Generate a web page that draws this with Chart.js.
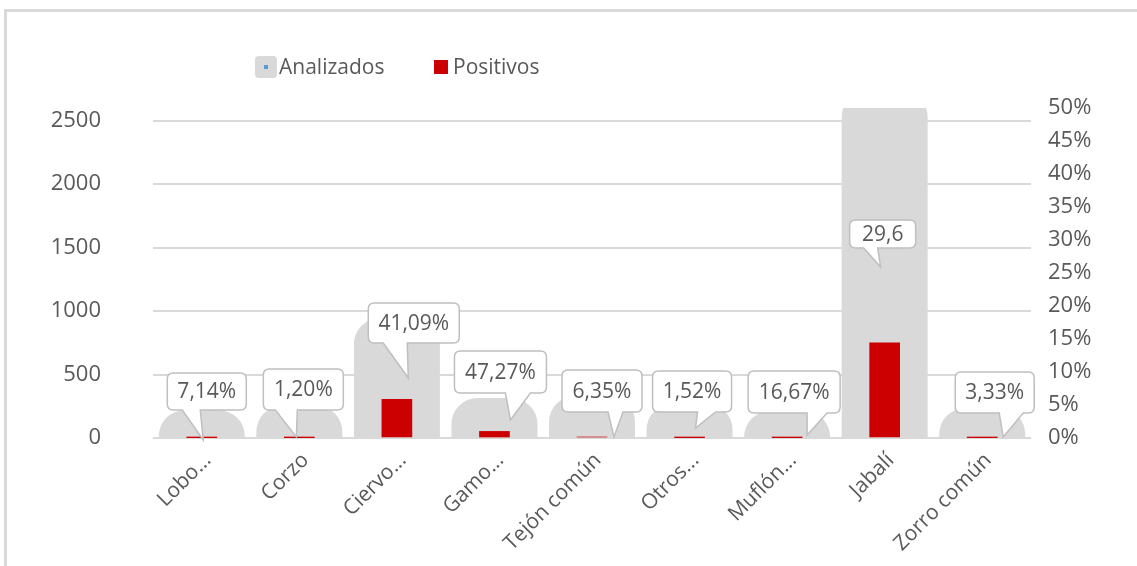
<!DOCTYPE html>
<html lang="es">
<head>
    <meta charset="UTF-8">
    <title>Analizados y positivos por especie</title>
    <style>
        body {
            margin: 0;
            background-color: white;
        }
        .marco {
            position: absolute;
            left: 4px;
            top: 9px;
            width: 1200px;
            height: 600px;
            border-top: 3px solid #d9d9d9;
            border-left: 3px solid #d9d9d9;
        }
        .grafica-container {
            position: absolute;
            left: 0;
            top: 0;
            width: 1137px;
            height: 566px;
        }
    </style>
</head>
<body>
    <div class="marco"></div>
    <div class="grafica-container">
        <canvas id="graficaEspecies"></canvas>
    </div>

    <script src="https://cdn.jsdelivr.net/npm/chart.js"></script>
    <script>
        // Datos
        const especies = ['Lobo...', 'Corzo', 'Ciervo...', 'Gamo...', 'Tejón común', 'Otros...', 'Muflón...', 'Jabalí', 'Zorro común'];
        const series = ['Analizados', 'Positivos'];
        const analizados = [14, 50, 740, 110, 126, 66, 6, 2530, 30];
        const positivos = [1, 1, 304, 52, 8, 1, 1, 749, 1];
        const porcentajes = ['7,14%', '1,20%', '41,09%', '47,27%', '6,35%', '1,52%', '16,67%', '29,6', '3,33%'];
        const ticksIzq = [0, 500, 1000, 1500, 2000, 2500];
        const ticksDer = [0, 5, 10, 15, 20, 25, 30, 35, 40, 45, 50];

        const GRIS = '#d9d9d9';
        const ROJO = '#cc0000';
        const AZUL = '#5b9bd5';
        const TEXTO = '#595959';

        Chart.defaults.font.family = "'Open Sans', sans-serif";
        Chart.defaults.color = TEXTO;

        // Posicion de cada globo respecto al centro de la barra y a la linea del cero
        // [izq, der, arriba, abajo, punta1, punta2, puntaX, puntaY]
        const globos = [
            [-34.5, 44.5, -65, -28, -19.5, -1.5, 1.5, 2],
            [-36, 44, -69, -28, -24, -2, -3, -1],
            [-28.6, 62.4, -135, -95, -13.6, 10.4, 11.4, -60],
            [-40, 52, -87, -45, 11, 36, 16, -18],
            [-30, 50, -68, -26, 16, 31, 22, -1],
            [-37, 42, -67, -26, 8, 26, 6, -10],
            [-39, 53, -67, -25, 20, 40, 20, -3],
            [-35, 31, -218, -190, -21, -7, -4, -171],
            [-27, 52, -66, -25, 17, 41, 21, -1]
        ];

        // Borde grueso redondeado de las barras grises (como en Excel)
        const bordeRedondo = {
            id: 'bordeRedondo',
            afterDatasetDraw(chart, args) {
                if (args.index !== 0) return;
                const ctx = chart.ctx;
                const area = chart.chartArea;
                ctx.save();
                ctx.beginPath();
                ctx.rect(area.left, area.top, area.right - area.left, area.bottom - area.top);
                ctx.clip();
                ctx.lineJoin = 'round';
                ctx.lineWidth = 52;
                ctx.strokeStyle = GRIS;
                args.meta.data.forEach(el => {
                    const p = el.getProps(['x', 'y', 'base', 'width'], true);
                    ctx.strokeRect(p.x - p.width / 2, p.y, p.width, p.base - p.y);
                });
                ctx.restore();
            }
        };

        // Globos con los porcentajes
        const etiquetasGlobo = {
            id: 'etiquetasGlobo',
            afterDatasetsDraw(chart) {
                const ctx = chart.ctx;
                const base = chart.scales.y.getPixelForValue(0);
                const meta = chart.getDatasetMeta(0);
                ctx.save();
                meta.data.forEach((el, i) => {
                    const g = globos[i];
                    const cx = el.x;
                    const l = cx + g[0], r = cx + g[1], t = base + g[2], b = base + g[3];
                    const rad = 6;
                    ctx.beginPath();
                    ctx.moveTo(l + rad, t);
                    ctx.lineTo(r - rad, t);
                    ctx.quadraticCurveTo(r, t, r, t + rad);
                    ctx.lineTo(r, b - rad);
                    ctx.quadraticCurveTo(r, b, r - rad, b);
                    ctx.lineTo(cx + g[5], b);
                    ctx.lineTo(cx + g[6], base + g[7]);
                    ctx.lineTo(cx + g[4], b);
                    ctx.lineTo(l + rad, b);
                    ctx.quadraticCurveTo(l, b, l, b - rad);
                    ctx.lineTo(l, t + rad);
                    ctx.quadraticCurveTo(l, t, l + rad, t);
                    ctx.closePath();
                    ctx.fillStyle = 'white';
                    ctx.fill();
                    ctx.lineWidth = 1.5;
                    ctx.strokeStyle = '#bfbfbf';
                    ctx.stroke();

                    ctx.fillStyle = TEXTO;
                    ctx.font = "21px 'Open Sans', sans-serif";
                    ctx.textAlign = 'center';
                    ctx.textBaseline = 'middle';
                    ctx.fillText(porcentajes[i], (l + r) / 2, (t + b) / 2 + 1);
                });
                ctx.restore();
            }
        };

        // Leyenda dibujada a mano
        const leyenda = {
            id: 'leyenda',
            afterDraw(chart) {
                const ctx = chart.ctx;
                ctx.save();
                ctx.fillStyle = GRIS;
                ctx.beginPath();
                ctx.roundRect(255, 56, 22, 22, 4);
                ctx.fill();
                ctx.fillStyle = AZUL;
                ctx.fillRect(264, 65, 4, 4);
                ctx.fillStyle = ROJO;
                ctx.fillRect(434, 60, 14, 14);
                ctx.fillStyle = TEXTO;
                ctx.font = "21px 'Open Sans', sans-serif";
                ctx.textAlign = 'left';
                ctx.textBaseline = 'middle';
                ctx.fillText(series[0], 279, 68);
                ctx.fillText(series[1], 453, 68);
                ctx.restore();
            }
        };

        const ctx = document.getElementById('graficaEspecies').getContext('2d');
        const chart = new Chart(ctx, {
            type: 'bar',
            data: {
                labels: especies,
                datasets: [{
                    label: series[0],
                    data: analizados,
                    backgroundColor: GRIS,
                    barThickness: 34,
                    grouped: false,
                    order: 2,
                    yAxisID: 'y'
                }, {
                    label: series[1],
                    data: positivos,
                    backgroundColor: ROJO,
                    barThickness: 30,
                    grouped: false,
                    order: 1,
                    yAxisID: 'y'
                }]
            },
            options: {
                responsive: true,
                maintainAspectRatio: false,
                animation: false,
                layout: { padding: { top: 108, left: 0, right: 0, bottom: 0 } },
                plugins: {
                    legend: { display: false },
                    tooltip: { enabled: false }
                },
                scales: {
                    x: {
                        grid: { display: false },
                        border: { display: false },
                        ticks: {
                            autoSkip: false,
                            minRotation: 45,
                            maxRotation: 45,
                            padding: 2,
                            labelOffset: 6,
                            font: { size: 21 },
                            color: TEXTO
                        },
                        afterFit(scale) { scale.height = 128; }
                    },
                    y: {
                        position: 'left',
                        min: 0,
                        max: 2600,
                        grid: { color: GRIS, lineWidth: 2, drawTicks: false },
                        border: { display: false },
                        ticks: {
                            stepSize: 500,
                            padding: 52,
                            font: { size: 22 },
                            color: TEXTO,
                            callback: v => String(v)
                        },
                        afterBuildTicks(scale) {
                            scale.ticks = ticksIzq.map(v => ({ value: v }));
                        },
                        afterFit(scale) { scale.width = 153; }
                    },
                    y1: {
                        position: 'right',
                        min: 0,
                        max: 50,
                        grid: { display: false, drawTicks: false },
                        border: { display: false },
                        ticks: {
                            stepSize: 5,
                            padding: 17,
                            font: { size: 22 },
                            color: TEXTO,
                            callback: v => v + '%'
                        },
                        afterBuildTicks(scale) {
                            scale.ticks = ticksDer.map(v => ({ value: v }));
                        },
                        afterFit(scale) { scale.width = 106; }
                    }
                }
            },
            plugins: [bordeRedondo, etiquetasGlobo, leyenda]
        });
    </script>
</body>
</html>
